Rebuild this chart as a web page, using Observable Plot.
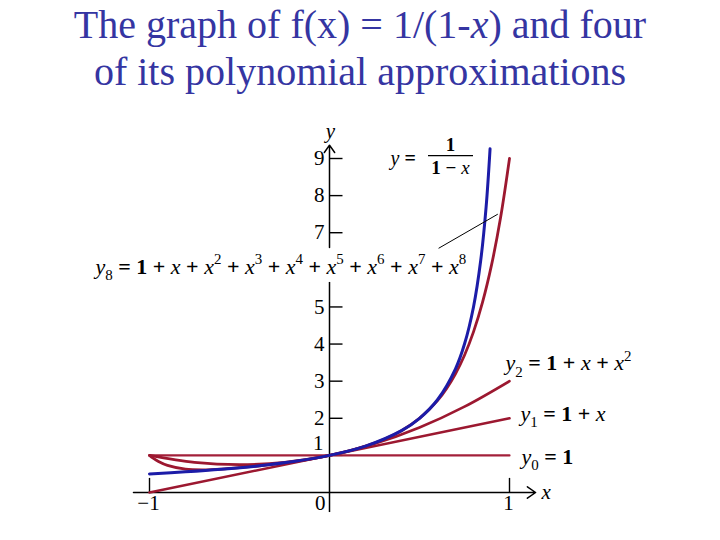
<!DOCTYPE html>
<html><head><meta charset="utf-8">
<script src="https://cdn.jsdelivr.net/npm/d3@7"></script>
<script src="https://cdn.jsdelivr.net/npm/@observablehq/plot@0.6"></script>
<style>
body{margin:0;background:#fff;width:720px;height:540px;overflow:hidden}
#title{height:110px;font-family:"Liberation Serif","Times New Roman",serif;font-size:40px;color:#3535a2;text-align:center;line-height:47px;padding-top:1px;box-sizing:border-box}
#chart svg, #chart svg text, #chart svg tspan{font-family:"Liberation Serif","Times New Roman",serif !important;white-space:pre}
</style></head><body>
<div id="title">The graph of f(x) = 1/(1-<i>x</i>) and four<br>of its polynomial approximations</div>
<div id="chart"></div>
<script>
// f(x) = 1/(1-x)
const fX = [-1, -0.8, -0.6, -0.4, -0.2, 0, 0.2, 0.4, 0.5, 0.6, 0.7, 0.75, 0.8, 0.84, 0.87, 0.892];
const fY = [0.5, 0.556, 0.625, 0.714, 0.833, 1, 1.25, 1.667, 2, 2.5, 3.333, 4, 5, 6.25, 7.69, 9.26];
// y8 = 1 + x + ... + x^8
const y8X = [-1, -0.98, -0.95, -0.9, -0.8, -0.7, -0.6, -0.5, -0.4, -0.3, -0.2, -0.1, 0, 0.1, 0.2, 0.3, 0.4, 0.5, 0.6, 0.65, 0.7, 0.75, 0.8, 0.85, 0.9, 0.95, 1];
const y8Y = [1, 0.926, 0.836, 0.730, 0.630, 0.612, 0.631, 0.668, 0.714, 0.769, 0.833, 0.909, 1, 1.111, 1.25, 1.429, 1.666, 1.996, 2.475, 2.798, 3.199, 3.700, 4.329, 5.123, 6.126, 7.395, 9];
// y2 = 1 + x + x^2
const y2X = [-1, -0.75, -0.5, -0.25, 0, 0.25, 0.5, 0.75, 1];
const y2Y = [1, 0.8125, 0.75, 0.8125, 1, 1.3125, 1.75, 2.3125, 3];
// y1 = 1 + x
const y1X = [-1, 1];
const y1Y = [0, 2];
// y0 = 1
const y0X = [-1, 1];
const y0Y = [1, 1];
// tick labels
const yTicks = [2, 3, 4, 5, 7, 8, 9];
const yTickLabels = ["2", "3", "4", "5", "7", "8", "9"];
const xTicks = [-1, 1];
const xTickLabels = ["\u22121", "1"];

const BLUE = "#1c1ca8", RED = "#9c1830";
const zip = (xs, ys) => xs.map((x, i) => ({x, y: ys[i]}));
const lineOpts = (stroke, w) => ({x: "x", y: "y", stroke, strokeWidth: w, curve: "catmull-rom"});
const LFS = 22; // label font size
const TFS = 21; // tick font size

const chart = Plot.plot({
  width: 720, height: 430,
  marginLeft: 149, marginRight: 211, marginTop: 48, marginBottom: 48,
  x: {domain: [-1, 1], axis: null},
  y: {domain: [0, 9], axis: null},
  style: {background: "white", color: "black"},
  marks: [
    // axes
    Plot.arrow([0], {x1: -1.089, x2: 1.145, y1: 0, y2: 0, stroke: "black", strokeWidth: 1.5, headLength: 10, headAngle: 70}),
    Plot.ruleX([0], {y1: -0.54, y2: 5.66, stroke: "black", strokeWidth: 1.5}),
    Plot.arrow([0], {x1: 0, x2: 0, y1: 6.6, y2: 9.36, stroke: "black", strokeWidth: 1.5, headLength: 9, headAngle: 70}),
    Plot.ruleY([1, ...yTicks], {x1: 0, x2: 0.075, stroke: "black", strokeWidth: 1.4}),
    Plot.ruleX(xTicks, {y1: 0, y2: 0.38, stroke: "black", strokeWidth: 1.4}),
    Plot.text(yTicks, {x: 0, y: d => d, text: (d, i) => yTickLabels[i], dx: -5, textAnchor: "end", fontSize: TFS}),
    Plot.text(["1"], {x: 0, y: 1, text: d => d, dx: -6, dy: -12, textAnchor: "end", fontSize: TFS}),
    Plot.text(["0"], {x: 0, y: 0, text: d => d, dx: -4, dy: 11, textAnchor: "end", fontSize: TFS}),
    Plot.text(xTicks, {x: d => d, y: 0, text: (d, i) => xTickLabels[i], dy: 11, dx: -1, fontSize: TFS}),
    Plot.text(["x"], {x: 1.145, y: 0, text: d => d, dx: 6, textAnchor: "start", fontSize: TFS}),
    Plot.text(["y"], {x: 0, y: 9.36, text: d => d, dy: -14, dx: 1, fontSize: TFS}),
    // curves
    Plot.line(zip(y0X, y0Y), lineOpts("#a3203a", 2.2)),
    Plot.line(zip(y1X, y1Y), lineOpts(RED, 2.6)),
    Plot.line(zip(y2X, y2Y), lineOpts(RED, 2.6)),
    Plot.line(zip(y8X, y8Y), lineOpts(RED, 2.8)),
    Plot.line(zip(fX, fY), lineOpts(BLUE, 3)),
    // pointer
    Plot.link([0], {x1: 0.606, y1: 6.58, x2: 0.935, y2: 7.5, stroke: "black", strokeWidth: 1}),
    // annotations
    Plot.text(["y_8 = 1 + x + x^2 + x^3 + x^4 + x^5 + x^6 + x^7 + x^8"], {x: -1.3, y: 6.09, text: d => d, textAnchor: "start", fontSize: LFS}),
    Plot.text(["y_2 = 1 + x + x^2"], {x: 0.978, y: 3.48, text: d => d, textAnchor: "start", fontSize: LFS}),
    Plot.text(["y_1 = 1 + x"], {x: 1.061, y: 2.13, text: d => d, textAnchor: "start", fontSize: LFS}),
    Plot.text(["y_0 = 1"], {x: 1.067, y: 0.97, text: d => d, textAnchor: "start", fontSize: LFS}),
    Plot.text(["y ="], {x: 0.339, y: 9.0, text: d => d, textAnchor: "start", fontSize: 20}),
    Plot.text(["1"], {x: 0.672, y: 9.37, text: d => d, fontSize: 19, fontWeight: "bold"}),
    Plot.ruleY([9.08], {x1: 0.55, x2: 0.80, stroke: "black", strokeWidth: 1.2}),
    Plot.text(["1 \u2212 x"], {x: 0.672, y: 8.75, text: d => d, fontSize: 19})
  ]
});
document.getElementById("chart").appendChild(chart);

// typeset simple math: italic variables, sub/superscripts
function formatMath(svg) {
  svg.querySelectorAll("text").forEach(t => {
    if (t.querySelector("tspan")) return;
    const s = t.textContent;
    if (!/[xy^_]/.test(s)) return;
    const fs = parseFloat(getComputedStyle(t).fontSize) || 20;
    t.textContent = "";
    let shift = 0;
    for (let i = 0; i < s.length; i++) {
      let ch = s[i];
      const ts = document.createElementNS("http://www.w3.org/2000/svg", "tspan");
      let target = 0, script = false;
      if ((ch === "^" || ch === "_") && i + 1 < s.length) {
        script = true;
        target = ch === "^" ? -0.42 * fs : 0.3 * fs;
        ch = s[++i];
        ts.setAttribute("font-size", 0.68 * fs);
      }
      if (target !== shift) { ts.setAttribute("dy", target - shift); shift = target; }
      if (ch === "x" || ch === "y") ts.setAttribute("font-style", "italic");
      else if (/[0-9=+\u2212]/.test(ch) && !script) ts.setAttribute("font-weight", "bold");
      ts.textContent = ch;
      t.appendChild(ts);
    }
  });
}
formatMath(chart);
</script>
</body></html>
